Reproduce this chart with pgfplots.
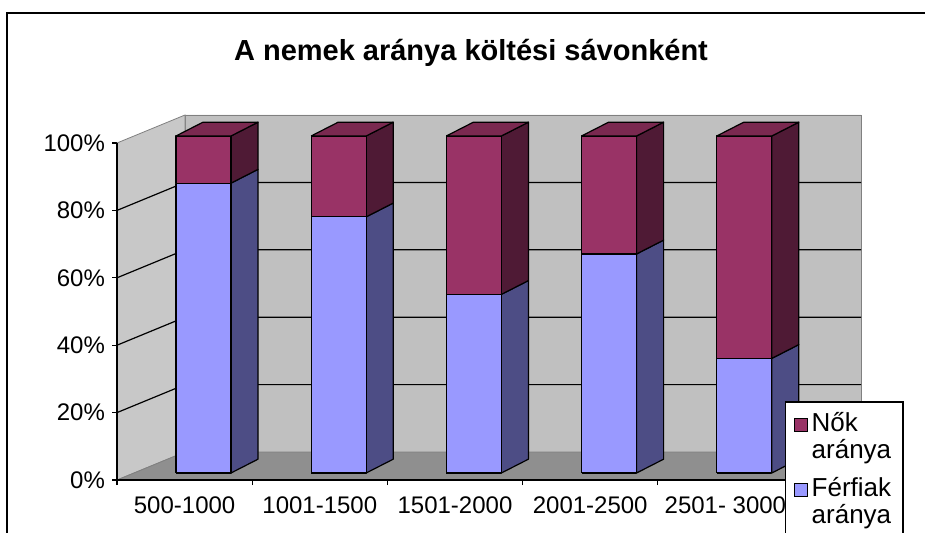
\documentclass[border=0pt]{standalone}
\usepackage{fontspec}
\setmainfont{Liberation Sans}
\usepackage{pgfplots}
\usepackage{pgfplotstable}
\pgfplotsset{compat=1.18}
\definecolor{ferfi}{HTML}{9999FF}
\definecolor{ferfiside}{HTML}{4D4D85}
\definecolor{nok}{HTML}{993366}
\definecolor{nokside}{HTML}{4F1A35}
\definecolor{noktop}{HTML}{7A2950}
\definecolor{wall}{HTML}{C0C0C0}
\definecolor{sidewall}{HTML}{C8C8C8}
\definecolor{floorc}{HTML}{8F8F8F}

% share of men / women in each spending band (percent)
\pgfplotstableread{
idx ferfi nok
0 86 14
1 76 24
2 53 47
3 65 35
4 34 66
}\data

\pgfplotsset{bface/.style={draw=black, line width=0.6pt, line join=round, mark=none, forget plot}}
\newcommand\poly[2]{\edef\tmp{\noexpand\addplot[\unexpanded{#1}] coordinates {#2};}\tmp}

\begin{document}
\begin{tikzpicture}
\useasboundingbox (0,0) rectangle (462.5pt,266pt);
\begin{axis}[
  at={(58.5pt,26pt)}, anchor=origin,
  x=67.6pt, y=1.685pt,
  xmin=0, xmax=5.503, ymin=0, ymax=108.31,
  clip=false,
  axis x line*=bottom, axis y line*=left,
  axis line style={draw=none},
  xtick={0,1,2,3,4,5},
  x tick label as interval,
  xticklabels={500-1000,1001-1500,1501-2000,2001-2500,2501- 3000},
  ytick={0,20,40,60,80,100},
  yticklabel={\pgfmathprintnumber{\tick}\%},
  /pgf/number format/assume math mode=true,
  tick align=outside,
  major tick length=2.5pt,
  tick style={black, line width=0.6pt},
  ticklabel style={font=\fontsize{12}{14}\selectfont},
  xticklabel style={yshift=-2.5pt},
  legend cell align=left,
  legend image code/.code={\draw[#1, draw=black, line width=0.5pt] (2pt,13.5pt) rectangle (8.5pt,20pt);},
  legend style={at={(axis cs:4.94,23.4)}, anchor=north west, draw=black, line width=0.8pt,
    fill=white, font=\fontsize{13}{13.5}\selectfont, cells={anchor=base west, align=left},
    inner xsep=4pt, inner ysep=3pt, row sep=4pt},
]
% walls and floor
\addplot[fill=wall, draw=gray, line width=0.4pt, forget plot] coordinates {(0.503,8.31) (5.503,8.31) (5.503,108.31) (0.503,108.31) (0.503,8.31)};
\addplot[fill=sidewall, draw=gray, line width=0.4pt, forget plot] coordinates {(0,0) (0.503,8.31) (0.503,108.31) (0,100) (0,0)};
\addplot[fill=floorc, draw=gray, line width=0.4pt, forget plot] coordinates {(0,0) (5,0) (5.503,8.31) (0.503,8.31) (0,0)};
% gridlines
\pgfplotsinvokeforeach{20,40,60,80}{
  \pgfmathsetmacro\gy{#1+8.31}
  \poly{black, line width=0.6pt, mark=none, forget plot}{(0,#1) (0.503,\gy) (5.503,\gy)}
}
% bars
\pgfplotsinvokeforeach{0,...,4}{
  \pgfplotstablegetelem{#1}{ferfi}\of\data \let\fv\pgfplotsretval
  \pgfplotstablegetelem{#1}{nok}\of\data \let\nv\pgfplotsretval
  \pgfmathsetmacro\xa{#1+0.436}
  \pgfmathsetmacro\xb{\xa+0.407}
  \pgfmathsetmacro\xc{\xb+0.2}
  \pgfmathsetmacro\xd{\xa+0.2}
  \pgfmathsetmacro\ya{2.08}
  \pgfmathsetmacro\yb{\ya+\fv}
  \pgfmathsetmacro\yc{\yb+\nv}
  \pgfmathsetmacro\yad{\ya+4.1}
  \pgfmathsetmacro\ybd{\yb+4.1}
  \pgfmathsetmacro\ycd{\yc+4.1}
  \poly{fill=ferfiside, bface}{(\xb,\ya) (\xc,\yad) (\xc,\ybd) (\xb,\yb) (\xb,\ya)}
  \poly{fill=ferfi, bface}{(\xa,\ya) (\xb,\ya) (\xb,\yb) (\xa,\yb) (\xa,\ya)}
  \poly{fill=nokside, bface}{(\xb,\yb) (\xc,\ybd) (\xc,\ycd) (\xb,\yc) (\xb,\yb)}
  \poly{fill=nok, bface}{(\xa,\yb) (\xb,\yb) (\xb,\yc) (\xa,\yc) (\xa,\yb)}
  \poly{fill=noktop, bface}{(\xa,\yc) (\xb,\yc) (\xc,\ycd) (\xd,\ycd) (\xa,\yc)}
}
% front axis lines
\addplot[black, line width=0.7pt, mark=none, forget plot] coordinates {(0,100) (0,0) (5,0)};
\addlegendimage{fill=nok}
\addlegendentry{Nők\\aránya}
\addlegendimage{fill=ferfi}
\addlegendentry{Férfiak\\aránya}
\end{axis}
\node[font=\bfseries\fontsize{14.5}{17}\selectfont, anchor=base] at (235.5pt,236pt) {A nemek aránya költési sávonként};
\draw[line width=0.8pt] (3.5pt,-5pt) -- (3.5pt,259.5pt) -- (470pt,259.5pt);
\end{tikzpicture}
\end{document}
